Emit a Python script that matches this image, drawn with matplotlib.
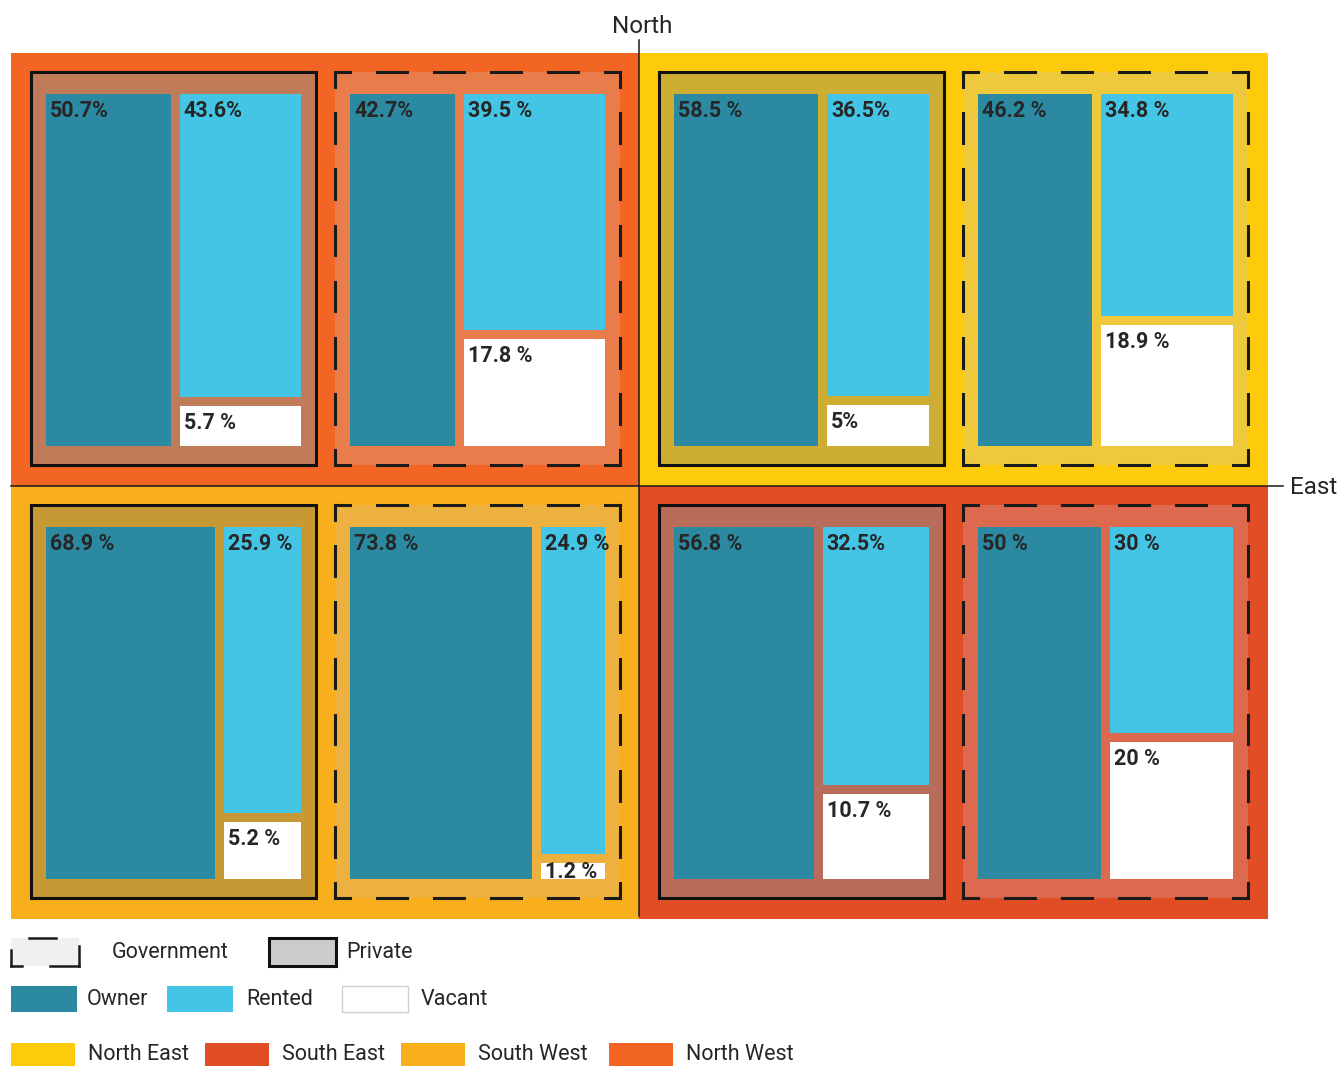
import matplotlib
matplotlib.use("Agg")
import matplotlib.pyplot as plt
from matplotlib.patches import Rectangle

plt.rcParams["font.family"] = ["Roboto", "DejaVu Sans"]

# order of quadrants: North West, North East, South West, South East
regions = ["North West", "North East", "South West", "South East"]
owner_private = [50.7, 58.5, 68.9, 56.8]
rented_private = [43.6, 36.5, 25.9, 32.5]
vacant_private = [5.7, 5.0, 5.2, 10.7]
owner_gov = [42.7, 46.2, 73.8, 50.0]
rented_gov = [39.5, 34.8, 24.9, 30.0]
vacant_gov = [17.8, 18.9, 1.2, 20.0]
lab_private = [["50.7%", "43.6%", "5.7 %"], ["58.5 %", "36.5%", "5%"],
               ["68.9 %", "25.9 %", "5.2 %"], ["56.8 %", "32.5%", "10.7 %"]]
lab_gov = [["42.7%", "39.5 %", "17.8 %"], ["46.2 %", "34.8 %", "18.9 %"],
           ["73.8 %", "24.9 %", "1.2 %"], ["50 %", "30 %", "20 %"]]

C_OWN, C_RENT, C_VAC = "#2B8AA2", "#45C5E5", "#FFFFFF"
C_REG = {"North East": "#FDCB0B", "South East": "#E14E26",
         "South West": "#F9AE1B", "North West": "#F26522"}
FILL_PRIV = ["#C07B58", "#CDAD32", "#C79934", "#B86C5A"]
FILL_GOV = ["#E87D4B", "#EDC93B", "#ECB13F", "#DD6A4E"]
TXT = "#262626"

fig = plt.figure(figsize=(13.41, 10.66), dpi=100)
ax = fig.add_axes([0, 0, 1, 1])
ax.set_xlim(0, 1341); ax.set_ylim(1066, 0); ax.axis("off")

# quadrant layout (pixels)
QX = [11, 639, 11, 639]
QY = [53, 53, 486, 486]
QW, QH = 629, 433
BOX_W, BOX_H = 285, 393
IN_L, IN_T, IN_W, IN_H, GAP = 15, 22, 255, 352, 9


def dashed_rect(x0, y0, w, h, period=57, frac=0.53, lw=2.2, z=5):
    sides = [(x0, y0, x0 + w, y0), (x0 + w, y0, x0 + w, y0 + h),
             (x0 + w, y0 + h, x0, y0 + h), (x0, y0 + h, x0, y0)]
    for xa, ya, xb, yb in sides:
        L = abs(xb - xa) + abs(yb - ya)
        n = max(1, round(L / period))
        p = L / n
        d = p * frac
        for k in range(n + 1):
            s0, s1 = max(0, k * p - d / 2), min(L, k * p + d / 2)
            t0, t1 = s0 / L, s1 / L
            ax.plot([xa + (xb - xa) * t0, xa + (xb - xa) * t1],
                    [ya + (yb - ya) * t0, ya + (yb - ya) * t1],
                    color="#1a1a1a", lw=lw, solid_capstyle="projecting", zorder=z)


def panel(x0, y0, own, rent, vac, labs, fill, dashed):
    ax.add_patch(Rectangle((x0, y0), BOX_W, BOX_H, facecolor=fill,
                           edgecolor="none", zorder=2))
    if dashed:
        dashed_rect(x0, y0, BOX_W, BOX_H)
    else:
        ax.add_patch(Rectangle((x0, y0), BOX_W, BOX_H, facecolor="none",
                               edgecolor="#111111", lw=2.2, zorder=5))
    ix, iy = x0 + IN_L, y0 + IN_T
    ow = (IN_W - GAP) * own / (own + rent + vac)
    rh = (IN_H - GAP) * rent / (rent + vac)
    rx = ix + ow + GAP
    rw = IN_W - ow - GAP
    bars = [(ix, iy, ow, IN_H, C_OWN), (rx, iy, rw, rh, C_RENT),
            (rx, iy + rh + GAP, rw, IN_H - rh - GAP, C_VAC)]
    for (bx, by, bw, bh, c), lab in zip(bars, labs):
        ax.add_patch(Rectangle((bx, by), bw, bh, facecolor=c, edgecolor="none", zorder=3))
        ax.text(bx + 4, min(by + 23, by + bh - 1), lab, ha="left", va="baseline",
                fontsize=15.5, fontweight="bold", color=TXT, zorder=6)


for i, reg in enumerate(regions):
    ax.add_patch(Rectangle((QX[i], QY[i]), QW, QH, facecolor=C_REG[reg],
                           edgecolor="none", zorder=1))
    bx = QX[i] + 20
    by = QY[i] + 19
    panel(bx, by, owner_private[i], rented_private[i], vacant_private[i],
          lab_private[i], FILL_PRIV[i], False)
    panel(bx + 304, by, owner_gov[i], rented_gov[i], vacant_gov[i],
          lab_gov[i], FILL_GOV[i], True)

# compass axes
ax.plot([639, 639], [40, 916], color="#1a1a1a", lw=1.1, zorder=7)
ax.plot([11, 1283], [486, 486], color="#1a1a1a", lw=1.1, zorder=7)
ax.text(642, 33, "North", ha="center", va="baseline", fontsize=17.5, color=TXT)
ax.text(1290, 494, "East", ha="left", va="baseline", fontsize=17.5, color=TXT)

# legend row 1: box types
ax.add_patch(Rectangle((11, 938), 68, 28, facecolor="#F0F0F0", edgecolor="none"))
for xs, ys in [([29, 56], [938, 938]), ([11, 11], [950, 966]), ([11, 22], [966, 966]),
               ([50, 79], [966, 966]), ([79, 79], [946, 966])]:
    ax.plot(xs, ys, color="#1a1a1a", lw=1.8, solid_capstyle="projecting")
ax.text(112, 958, "Government", ha="left", va="baseline", fontsize=15.5, color=TXT)
ax.add_patch(Rectangle((269, 938), 67, 28, facecolor="#CCCCCC",
                       edgecolor="#111111", lw=2.2))
ax.text(346, 958, "Private", ha="left", va="baseline", fontsize=15.5, color=TXT)

# legend row 2: tenure
for x, c, lab in [(11, C_OWN, "Owner"), (167, C_RENT, "Rented"), (342, C_VAC, "Vacant")]:
    ax.add_patch(Rectangle((x, 986), 66, 26, facecolor=c,
                           edgecolor="#D0D0D0" if c == C_VAC else "none", lw=1))
    ax.text(x + 76 + (3 if lab != "Owner" else 0), 1005, lab, ha="left",
            va="baseline", fontsize=15.5, color=TXT)

# legend row 3: regions
for x, reg in [(11, "North East"), (205, "South East"), (401, "South West"), (609, "North West")]:
    ax.add_patch(Rectangle((x, 1043), 64, 23, facecolor=C_REG[reg], edgecolor="none"))
    ax.text(x + 77, 1060, reg, ha="left", va="baseline", fontsize=15.5, color=TXT)

fig.savefig("out.png", dpi=100)
